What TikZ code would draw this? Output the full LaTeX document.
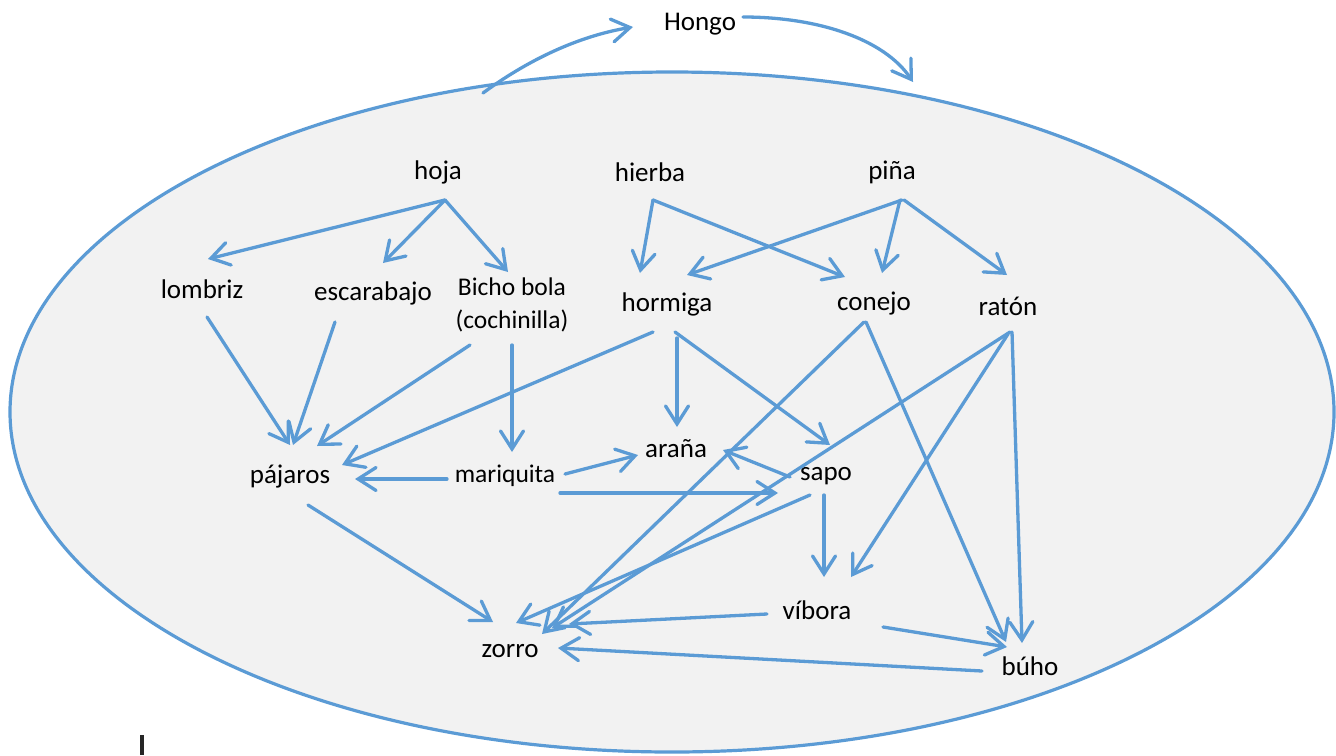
\documentclass[tikz,border=0pt]{standalone}
\usepackage{fontspec}
\setmainfont{Carlito}
\usetikzlibrary{arrows.meta,calc}
\definecolor{eblue}{HTML}{5B9BD5}
\definecolor{efill}{HTML}{F2F2F2}
\begin{document}
\begin{tikzpicture}[x=0.5pt,y=-0.5pt,
  lbl/.style={font=\fontsize{13.5}{16}\selectfont, inner sep=1pt, text=black},
  arr/.style={draw=eblue, line width=1.65pt, line cap=round,
    -{Straight Barb[length=9pt,width=11.5pt,line cap=round]}}]
\useasboundingbox (0,0) rectangle (1336,755);
% ecosystem ellipse
\draw[eblue, fill=efill, line width=1.6pt] (672,412) ellipse [x radius=331pt, y radius=170pt];
\coordinate (ecotop) at (483,93);
\coordinate (ecoin) at (913,82);
% nodes
\node[lbl] (hongo) at (700,24) {Hongo};
\node[lbl] (hoja) at (438,172) {hoja};
\node[lbl] (hierba) at (650,172) {hierba};
\node[lbl] (pina) at (892,172) {piña};
\node[lbl] (lombriz) at (202,289) {lombriz};
\node[lbl] (escarabajo) at (373,293) {escarabajo};
\node[lbl, font=\fontsize{12.75}{16.5}\selectfont, align=center] (bicho) at (512,305) {Bicho bola\\(cochinilla)};
\node[lbl] (hormiga) at (667,304) {hormiga};
\node[lbl] (conejo) at (874,304) {conejo};
\node[lbl] (raton) at (1008,306) {ratón};
\node[lbl] (pajaros) at (290,477) {pájaros};
\node[lbl, font=\fontsize{12.75}{15}\selectfont] (mariquita) at (505,476) {mariquita};
\node[lbl] (arana) at (676,449) {araña};
\node[lbl] (sapo) at (826,476) {sapo};
\node[lbl] (vibora) at (817,610) {víbora};
\node[lbl] (zorro) at (510,651) {zorro};
\node[lbl] (buho) at (1030,666) {búho};
% hongo cycle
\draw[arr] (ecotop) .. controls (535,55) and (585,35) .. ($(hongo.center)+(-67,3)$);
\draw[arr] ($(hongo.center)+(43,-7)$) .. controls (820,17) and (885,40) .. (ecoin);
% food web
\draw[arr] ($(hoja.center)+(7,28)$) -- ($(lombriz.center)+(6,-30)$);
\draw[arr] ($(hoja.center)+(7,28)$) -- ($(escarabajo.center)+(10,-30)$);
\draw[arr] ($(hoja.center)+(7,28)$) -- ($(bicho.center)+(-4,-33)$);
\draw[arr] ($(hierba.center)+(3,28)$) -- ($(hormiga.center)+(-27,-31)$);
\draw[arr] ($(hierba.center)+(3,28)$) -- ($(conejo.center)+(-29,-27)$);
\draw[arr] ($(pina.center)+(10,28)$) -- ($(hormiga.center)+(20,-29)$);
\draw[arr] ($(pina.center)+(8,28)$) -- ($(conejo.center)+(8,-31)$);
\draw[arr] ($(pina.center)+(12,28)$) -- ($(raton.center)+(-1,-31)$);
\draw[arr] ($(lombriz.center)+(5,28)$) -- ($(pajaros.center)+(0,-32)$);
\draw[arr] ($(escarabajo.center)+(-38,29)$) -- ($(pajaros.center)+(3,-32)$);
\draw[arr] ($(bicho.center)+(-42,40)$) -- ($(pajaros.center)+(27,-31)$);
\draw[arr] ($(bicho.center)+(0,40)$) -- ($(mariquita.center)+(7,-24)$);
\draw[arr] ($(hormiga.center)+(-14,28)$) -- ($(pajaros.center)+(52,-12)$);
\draw[arr] ($(hormiga.center)+(10,34)$) -- ($(arana.center)+(1,-22)$);
\draw[arr] ($(hormiga.center)+(8,28)$) -- ($(sapo.center)+(4,-31)$);
\draw[arr] ($(mariquita.center)+(-58,3)$) -- ($(pajaros.center)+(65,2)$);
\draw[arr] ($(mariquita.center)+(60,-2)$) -- ($(arana.center)+(-38,6)$);
\draw[arr] ($(mariquita.center)+(55,17)$) -- ($(sapo.center)+(-48,17)$);
\draw[arr] ($(sapo.center)+(-36,1)$) -- ($(arana.center)+(47,1)$);
\draw[arr] ($(conejo.center)+(-10,18)$) -- ($(zorro.center)+(32,-17)$);
\draw[arr] ($(raton.center)+(2,26)$) -- ($(zorro.center)+(42,-23)$);
\draw[arr] ($(raton.center)+(0,28)$) -- ($(vibora.center)+(34,-33)$);
\draw[arr] ($(raton.center)+(4,26)$) -- ($(buho.center)+(-8,-23)$);
\draw[arr] ($(conejo.center)+(-8,18)$) -- ($(buho.center)+(-24,-24)$);
\draw[arr] ($(sapo.center)+(-2,19)$) -- ($(vibora.center)+(7,-33)$);
\draw[arr] ($(sapo.center)+(-16,19)$) -- ($(zorro.center)+(6,-28)$);
\draw[arr] ($(pajaros.center)+(18,28)$) -- ($(zorro.center)+(-17,-29)$);
\draw[arr] ($(vibora.center)+(-50,4)$) -- ($(zorro.center)+(59,-27)$);
\draw[arr] ($(vibora.center)+(66,17)$) -- ($(buho.center)+(-23,-19)$);
\draw[arr] ($(buho.center)+(-48,5)$) -- ($(zorro.center)+(48,-3)$);
% small mark at bottom left
\draw[black!85, line width=1.6pt] (142,735) -- (142,755);
\end{tikzpicture}
\end{document}
